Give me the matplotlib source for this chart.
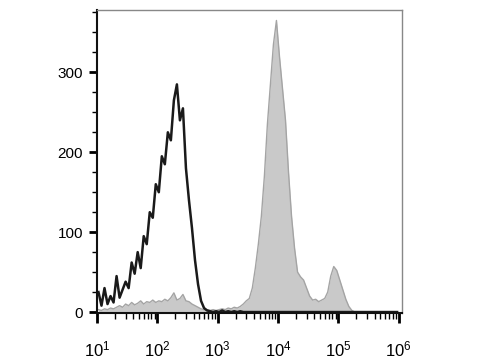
import numpy as np
import matplotlib
matplotlib.use('Agg')
import matplotlib.pyplot as plt
from matplotlib.ticker import LogLocator, FixedLocator, MultipleLocator

plt.rcParams['font.family'] = ['Liberation Sans', 'DejaVu Sans']
plt.rcParams['mathtext.default'] = 'regular'

# histogram bins, log10 of fluorescence, 0.05 decade wide
LOG_START = 1.0
LOG_STEP = 0.05

# unstained / isotype control (black outline)
control = [25, 8, 30, 10, 20, 12, 45, 18, 28, 38,
           30, 62, 48, 75, 55, 95, 85, 125, 118, 160,
           150, 195, 185, 225, 215, 265, 285, 240, 255, 180,
           140, 105, 65, 35, 14, 5, 2, 1, 0, 1,
           0, 2, 0, 1, 0, 1, 0, 1, 0, 0,
           0, 0, 0, 0, 0, 0, 0, 0, 0, 0,
           0, 0, 0, 0, 0, 0, 0, 0, 0, 0,
           0, 0, 0, 0, 0, 0, 0, 0, 0, 0,
           0, 0, 0, 0, 0, 0, 0, 0, 0, 0,
           0, 0, 0, 0, 0, 0, 0, 0, 0, 0]

# stained sample (grey filled)
stained = [3, 2, 4, 3, 5, 4, 6, 8, 6, 10,
           8, 12, 9, 11, 14, 10, 13, 12, 15, 12,
           14, 13, 16, 14, 18, 24, 15, 17, 22, 14,
           13, 10, 8, 6, 4, 3, 3, 2, 3, 2,
           3, 4, 3, 5, 4, 6, 5, 7, 10, 14,
           17, 30, 55, 85, 120, 170, 235, 285, 335, 365,
           320, 280, 240, 175, 120, 80, 50, 44, 40, 30,
           20, 15, 16, 13, 15, 17, 25, 45, 57, 52,
           40, 28, 16, 7, 2, 0, 0, 0, 0, 0,
           0, 0, 0, 0, 0, 0, 0, 0, 0, 0]

decade_labels = ['$10^{1}$', '$10^{2}$', '$10^{3}$', '$10^{4}$', '$10^{5}$', '$10^{6}$']
count_ticks = [0, 100, 200, 300]

centers = LOG_START + LOG_STEP * (np.arange(len(stained)) + 0.5)
x = 10 ** centers

fig = plt.figure(figsize=(4.8, 3.6), dpi=100)
ax = fig.add_axes([0.202, 0.131, 0.636, 0.841])

ax.fill_between(x, stained, 0, color='#c9c9c9', lw=0)
ax.plot(x, stained, color='#a4a4a4', lw=1.0)
ax.plot(x, control, color='#1a1a1a', lw=1.8)

ax.set_xscale('log')
ax.set_xlim(10, 10 ** 6.06)
ax.set_ylim(-1, 378)

ax.xaxis.set_major_locator(FixedLocator([10.0 ** k for k in range(1, 7)]))
ax.xaxis.set_minor_locator(LogLocator(base=10, subs=np.arange(2, 10)))
ax.set_xticklabels(decade_labels, fontsize=12)
ax.yaxis.set_major_locator(FixedLocator(count_ticks))
ax.yaxis.set_minor_locator(MultipleLocator(25))
ax.set_yticklabels([str(v) for v in count_ticks], fontsize=11)

ax.tick_params(axis='x', which='major', direction='out', length=7, width=2, pad=12)
ax.tick_params(axis='x', which='minor', direction='out', length=4, width=1)
ax.tick_params(axis='y', which='major', direction='out', length=6, width=2, pad=4)
ax.tick_params(axis='y', which='minor', direction='out', length=3.5, width=1)

for side in ['top', 'right']:
    ax.spines[side].set_color('#888888')
    ax.spines[side].set_linewidth(1.0)
for side in ['left', 'bottom']:
    ax.spines[side].set_color('#111111')
    ax.spines[side].set_linewidth(1.5)

fig.savefig('out.png', dpi=100)
